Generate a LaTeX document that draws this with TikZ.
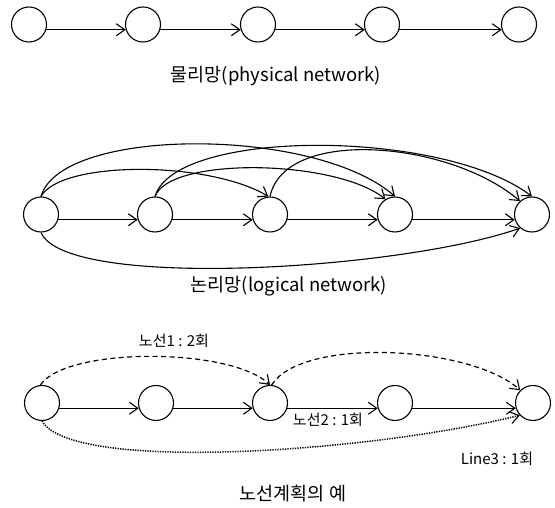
\documentclass[tikz,border=0pt]{standalone}
\usepackage{fontspec}
\setmainfont{Noto Sans CJK KR}
\usetikzlibrary{arrows.meta}
\begin{document}
\begin{tikzpicture}[x=1pt,y=1pt,
  nd/.style={circle,draw,line width=1.1pt,minimum size=35pt,inner sep=0pt},
  arr/.style={line width=1.1pt,-{Straight Barb[length=8.5pt,width=12pt,line width=1.1pt]}},
  dsh/.style={arr,dash pattern=on 5pt off 3.5pt,line width=1.2pt},
  dtt/.style={arr,dash pattern=on 1.3pt off 1.2pt,line width=1.5pt},
  captxt/.style={font=\fontsize{18.5}{20}\selectfont,inner sep=0pt},
  labtxt/.style={font=\fontsize{15}{17}\selectfont,inner sep=0pt}]
\useasboundingbox (0,0) rectangle (555,508);
% row 1
\node[nd] (a1) at (29,483.5) {};
\node[nd] (a2) at (143,483.5) {};
\node[nd] (a3) at (258,483.5) {};
\node[nd] (a4) at (382,483.5) {};
\node[nd] (a5) at (519,483.5) {};
\draw[arr] (a1.-17) -- (a2.197);
\draw[arr] (a2.-17) -- (a3.197);
\draw[arr] (a3.-17) -- (a4.197);
\draw[arr] (a4.-17) -- (a5.197);
\node[captxt] (t1) at (276,432) {물리망(physical network)};
% row 2
\node[nd] (b1) at (41,293.5) {};
\node[nd] (b2) at (155,293.5) {};
\node[nd] (b3) at (270,293.5) {};
\node[nd] (b4) at (395,293.5) {};
\node[nd] (b5) at (532,293.5) {};
\draw[arr] (b1.-17) -- (b2.197);
\draw[arr] (b2.-17) -- (b3.197);
\draw[arr] (b3.-17) -- (b4.197);
\draw[arr] (b4.-17) -- (b5.197);
\draw[arr] (b1.north) .. controls +(20,36) and +(-60,36) .. (b3.95);
\draw[arr] (b1.north) .. controls +(20,70) and +(-80,70) .. (b4.north);
\draw[arr] (b2.north) .. controls +(15,40) and +(-50,40) .. (b4.122);
\draw[arr] (b2.north) .. controls +(20,68) and +(-90,68) .. (b5.north);
\draw[arr] (b3.north) .. controls +(15,70) and +(-70,60) .. (b5.132);
\draw[arr] (b1.south) .. controls +(25,-58) and +(-120,-42) .. (b5.-131);
\node[captxt] (t2) at (289,222) {논리망(logical network)};
% row 3
\node[nd] (c1) at (42,105) {};
\node[nd] (c2) at (156,105) {};
\node[nd] (c3) at (270,105) {};
\node[nd] (c4) at (395,105) {};
\node[nd] (c5) at (533,105) {};
\draw[arr] (c1.-17) -- (c2.197);
\draw[arr] (c2.-17) -- (c3.197);
\draw[arr] (c3.-17) -- (c4.197);
\draw[arr] (c4.-17) -- (c5.197);
\draw[dsh] (c1.95) .. controls +(25,38) and +(-40,38) .. (c3.north);
\draw[dsh] (c3.85) .. controls +(30,48) and +(-50,45) .. (c5.135);
\draw[dtt] (c1.south) .. controls +(30,-52) and +(-150,-37) .. (c5.-137);
\node[labtxt] (l1) at (174,167) {노선1 : 2회};
\node[labtxt] (l2) at (328,88) {노선2 : 1회};
\node[labtxt] (l3) at (497,49) {Line3 : 1회};
\node[captxt] (t3) at (293,14) {노선계획의 예};
\end{tikzpicture}
\end{document}
